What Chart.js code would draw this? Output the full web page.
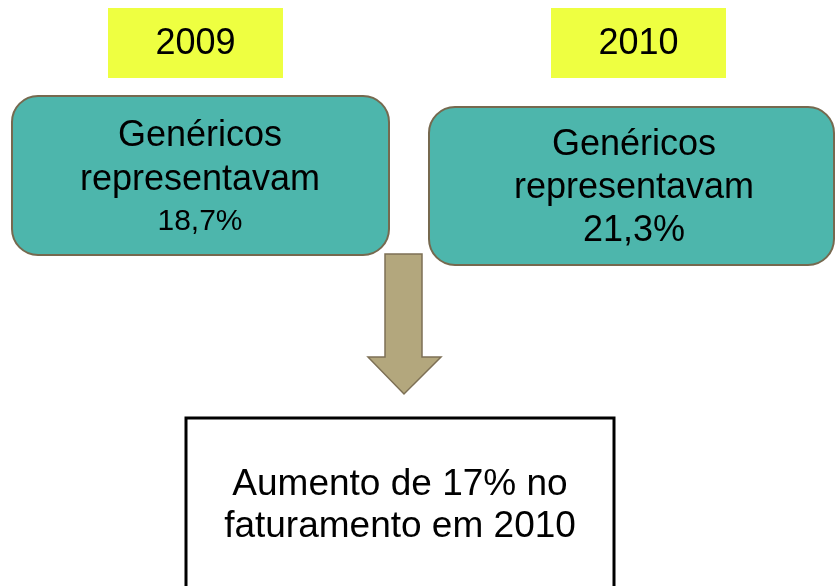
<!DOCTYPE html>
<html>
<head>
<meta charset="utf-8">
<script src="https://cdn.jsdelivr.net/npm/chart.js@4"></script>
<style>
  html, body { margin: 0; padding: 0; background: #fff; }
  #wrap { width: 835px; height: 586px; position: relative; }
</style>
</head>
<body>
<div id="wrap"><canvas id="diagram"></canvas></div>
<script>
// data
const years = ['2009', '2010'];
const genericShare = [18.7, 21.3];   // % of market
const revenueGrowth = 17;           // % in 2010
const growthYear = '2010';

const fmt = v => v.toFixed(1).replace('.', ',') + '%';

// layout, in page pixels (scales run 0..835 / 0..586 so 1 unit = 1 px)
const yearBoxes = [
    { x0: 108, y0: 8, x1: 283, y1: 78 },
    { x0: 551, y0: 8, x1: 726, y1: 78 }
];
// each line: [y, font size]
const shareBoxes = [
    { x0: 12, y0: 96, x1: 389, y1: 255, cx: 200, lines: [[136, 36], [180, 36], [222, 30]] },
    { x0: 429, y0: 107, x1: 834, y1: 265, cx: 634, lines: [[145, 36], [188, 36], [231, 36]] }
];

const FONT = '"Liberation Sans", Arial, sans-serif';

const diagramPlugin = {
    id: 'diagram',
    afterDraw(chart) {
        const ctx = chart.ctx;
        const sx = v => chart.scales.x.getPixelForValue(v);
        const sy = v => chart.scales.y.getPixelForValue(v);
        ctx.save();
        ctx.textAlign = 'center';
        ctx.textBaseline = 'middle';

        // year labels
        years.forEach((yr, i) => {
            const b = yearBoxes[i];
            ctx.fillStyle = '#EEFF41';
            ctx.fillRect(sx(b.x0), sy(b.y0), sx(b.x1) - sx(b.x0), sy(b.y1) - sy(b.y0));
            ctx.fillStyle = '#000';
            ctx.font = '36px ' + FONT;
            ctx.fillText(yr, (sx(b.x0) + sx(b.x1)) / 2, (sy(b.y0) + sy(b.y1)) / 2 + 1);
        });

        // share boxes
        genericShare.forEach((v, i) => {
            const b = shareBoxes[i];
            ctx.beginPath();
            ctx.roundRect(sx(b.x0), sy(b.y0), sx(b.x1) - sx(b.x0), sy(b.y1) - sy(b.y0), 26);
            ctx.fillStyle = '#4DB6AC';
            ctx.fill();
            ctx.lineWidth = 2;
            ctx.strokeStyle = '#76694F';
            ctx.stroke();
            ctx.fillStyle = '#000';
            const texts = ['Genéricos', 'representavam', fmt(v)];
            texts.forEach((t, j) => {
                const [ly, size] = b.lines[j];
                ctx.font = size + 'px ' + FONT;
                ctx.fillText(t, sx(b.cx), sy(ly));
            });
        });

        // arrow
        ctx.beginPath();
        ctx.moveTo(sx(385), sy(254));
        ctx.lineTo(sx(422), sy(254));
        ctx.lineTo(sx(422), sy(357));
        ctx.lineTo(sx(441), sy(357));
        ctx.lineTo(sx(404), sy(394));
        ctx.lineTo(sx(368), sy(357));
        ctx.lineTo(sx(385), sy(357));
        ctx.closePath();
        ctx.fillStyle = '#B3A77D';
        ctx.fill();
        ctx.lineWidth = 1.5;
        ctx.strokeStyle = '#7D7055';
        ctx.stroke();

        // result box
        ctx.lineWidth = 3;
        ctx.strokeStyle = '#000';
        ctx.strokeRect(sx(186), sy(418), sx(614) - sx(186), sy(600) - sy(418));
        ctx.fillStyle = '#000';
        ctx.font = '37px ' + FONT;
        ctx.fillText('Aumento de ' + revenueGrowth + '% no', sx(400), sy(485));
        ctx.fillText('faturamento em ' + growthYear, sx(400), sy(527));
        ctx.restore();
    }
};

new Chart(document.getElementById('diagram'), {
    type: 'scatter',
    data: { datasets: [{ data: [], pointRadius: 0 }] },
    options: {
        responsive: true, maintainAspectRatio: false, animation: false,
        layout: { padding: 0 },
        plugins: { legend: { display: false }, tooltip: { enabled: false } },
        scales: {
            x: { type: 'linear', min: 0, max: 835, display: false },
            y: { type: 'linear', min: 0, max: 586, reverse: true, display: false }
        }
    },
    plugins: [diagramPlugin]
});
</script>
</body>
</html>
